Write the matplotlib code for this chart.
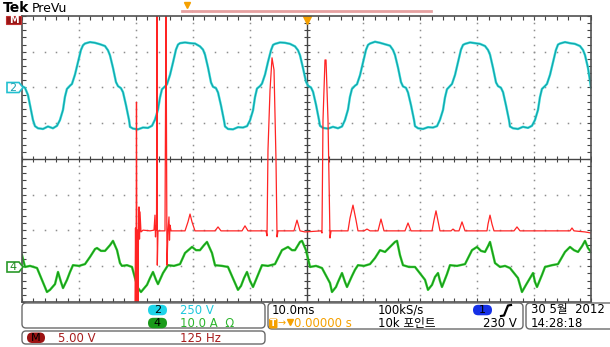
import matplotlib.pyplot as plt
import numpy as np
from matplotlib.patches import FancyBboxPatch, Polygon

plt.rcParams['font.family'] = ['DejaVu Sans', 'Noto Sans CJK KR']

# time in ms (10 ms/div), level in screen divisions
ch2_t = [0.00, 0.53, 1.05, 1.58, 1.93,
         2.28, 2.81, 3.69, 4.56, 5.44, 6.15, 6.67, 7.20, 7.55, 7.90, 8.43, 8.78, 9.31, 9.84, 10.36,
         10.72, 11.07, 11.95, 12.82, 13.70, 14.58, 15.11, 15.46, 15.99, 16.52, 16.87, 17.39, 17.75, 18.27, 18.80,
         18.98, 19.51, 20.39, 21.26, 22.14, 22.85, 23.37, 23.90, 24.25, 24.60, 25.13, 25.48, 26.01, 26.54, 27.06,
         27.42, 27.77, 28.65, 29.52, 30.40, 31.28, 31.81, 32.16, 32.69, 33.22, 33.57, 34.09, 34.45, 34.97, 35.50,
         35.68, 36.21, 37.09, 37.96, 38.84, 39.55, 40.07, 40.60, 40.95, 41.30, 41.83, 42.18, 42.71, 43.24, 43.76,
         44.12, 44.47, 45.35, 46.22, 47.10, 47.98, 48.51, 48.86, 49.39, 49.92, 50.27, 50.79, 51.15, 51.67, 52.20,
         52.37, 52.90, 53.78, 54.65, 55.53, 56.24, 56.76, 57.29, 57.64, 57.99, 58.52, 58.87, 59.40, 59.93, 60.45,
         60.81, 61.16, 62.04, 62.91, 63.79, 64.67, 65.20, 65.55, 66.08, 66.61, 66.96, 67.48, 67.84, 68.36, 68.89,
         69.07, 69.60, 70.48, 71.35, 72.23, 72.94, 73.46, 73.99, 74.34, 74.69, 75.22, 75.57, 76.10, 76.63, 77.15,
         77.51, 77.86, 78.74, 79.61, 80.49, 81.37, 81.90, 82.25, 82.78, 83.31, 83.66, 84.18, 84.54, 85.06, 85.59,
         85.76, 86.29, 87.17, 88.04, 88.92, 89.63, 90.15, 90.68, 91.03, 91.38, 91.91, 92.26, 92.79, 93.32, 93.84,
         94.20, 94.55, 95.43, 96.30, 97.18, 98.06, 98.59, 98.94, 99.47, 100.0]
ch2_v = [2.04, 1.99, 1.79, 1.37, 1.09,
         0.92, 0.86, 0.84, 0.91, 0.86, 0.93, 1.09, 1.37, 1.74, 1.96, 2.05, 2.10, 2.36, 2.71, 3.05,
         3.18, 3.23, 3.27, 3.25, 3.21, 3.16, 3.04, 2.90, 2.55, 2.15, 2.04, 1.98, 1.87, 1.51, 1.10,
         0.90, 0.85, 0.83, 0.88, 0.87, 0.93, 1.10, 1.38, 1.72, 1.95, 2.03, 2.09, 2.35, 2.70, 3.06,
         3.20, 3.24, 3.26, 3.24, 3.23, 3.15, 3.06, 2.92, 2.56, 2.14, 2.02, 1.98, 1.86, 1.50, 1.08,
         0.91, 0.84, 0.83, 0.89, 0.88, 0.92, 1.08, 1.36, 1.73, 1.97, 2.04, 2.11, 2.36, 2.72, 3.04,
         3.19, 3.22, 3.26, 3.25, 3.22, 3.15, 3.04, 2.90, 2.54, 2.16, 2.05, 2.00, 1.88, 1.52, 1.09,
         0.93, 0.87, 0.85, 0.90, 0.86, 0.91, 1.09, 1.38, 1.74, 1.96, 2.05, 2.09, 2.34, 2.70, 3.05,
         3.19, 3.23, 3.28, 3.25, 3.21, 3.17, 3.05, 2.91, 2.56, 2.15, 2.03, 1.99, 1.86, 1.51, 1.10,
         0.92, 0.86, 0.84, 0.89, 0.88, 0.92, 1.10, 1.37, 1.72, 1.95, 2.04, 2.10, 2.35, 2.71, 3.06,
         3.19, 3.22, 3.26, 3.24, 3.22, 3.16, 3.05, 2.92, 2.55, 2.14, 2.04, 1.99, 1.87, 1.50, 1.09,
         0.91, 0.86, 0.84, 0.90, 0.87, 0.93, 1.09, 1.37, 1.73, 1.96, 2.04, 2.10, 2.35, 2.71, 3.05,
         3.20, 3.23, 3.27, 3.24, 3.22, 3.16, 3.05, 2.91, 2.55, 2.00]

ch4_t = [0.00, 0.53, 1.41, 2.64, 3.51, 4.39, 4.92, 5.80, 6.33, 6.85, 7.21, 7.91, 8.44, 8.96, 10.02,
         11.07, 11.95, 12.83, 13.18, 13.88, 14.59, 15.47, 15.99, 16.70, 17.22, 17.57, 18.45, 19.33, 19.86,
         20.39, 20.91, 21.97, 22.50, 23.02, 23.55, 23.90, 24.78, 25.66, 26.71, 27.77, 28.65, 29.88, 30.58,
         31.28, 31.99, 32.51, 33.39, 33.92, 35.15, 36.20, 37.43, 37.96, 38.49, 39.02, 39.54, 40.07, 40.60,
         41.48, 42.18, 43.23, 44.46, 45.69, 46.75, 47.45, 47.98, 48.86, 49.21, 49.91, 50.62, 51.67, 52.72,
         54.13, 54.48, 55.18, 55.54, 56.24, 56.77, 57.12, 58.00, 58.52, 59.05, 60.11, 61.16, 62.04, 62.92,
         63.80, 64.67, 65.55, 65.91, 66.43, 66.96, 68.01, 69.07, 70.83, 71.35, 72.06, 72.58, 73.11, 73.46,
         73.81, 74.69, 75.22, 76.45, 77.86, 79.09, 79.96, 80.67, 81.37, 81.90, 82.25, 83.13, 84.01, 84.89,
         85.76, 87.17, 87.87, 88.58, 89.28, 89.81, 90.16, 90.51, 91.39, 91.92, 93.15, 94.20, 95.43, 96.31,
         97.01, 97.72, 98.42, 98.95, 99.47, 100.0]
ch4_v = [-2.69, -3.02, -2.99, -3.05, -3.38, -3.72, -3.66, -3.50, -3.16, -3.44, -3.61, -3.38, -3.16, -2.97, -2.99,
         -2.94, -2.74, -2.52, -2.49, -2.57, -2.57, -2.41, -2.29, -2.55, -2.91, -2.99, -2.97, -3.02, -3.33,
         -3.61, -3.72, -3.52, -3.33, -3.16, -3.38, -3.50, -3.19, -2.97, -2.99, -2.94, -2.63, -2.46, -2.55,
         -2.55, -2.41, -2.32, -2.63, -2.97, -2.99, -3.02, -3.47, -3.66, -3.55, -3.33, -3.16, -3.41, -3.58,
         -3.24, -2.97, -2.99, -2.94, -2.55, -2.46, -2.55, -2.55, -2.32, -2.29, -2.55, -3.02, -2.99, -3.05,
         -3.47, -3.72, -3.58, -3.44, -3.19, -3.44, -3.58, -3.27, -3.10, -2.97, -2.99, -2.94, -2.77, -2.55,
         -2.60, -2.46, -2.32, -2.29, -2.69, -2.97, -3.02, -3.02, -3.38, -3.66, -3.52, -3.30, -3.19, -3.41,
         -3.58, -3.22, -2.97, -2.99, -2.94, -2.55, -2.46, -2.57, -2.60, -2.44, -2.32, -2.91, -3.02, -2.99,
         -3.05, -3.33, -3.72, -3.52, -3.33, -3.19, -3.44, -3.58, -3.24, -3.02, -2.97, -2.94, -2.60, -2.46,
         -2.55, -2.60, -2.44, -2.29, -2.49, -2.60]

math_t = [19.86, 19.95, 20.04, 20.12, 20.21, 20.30, 20.39, 20.47, 20.56, 20.65, 20.74, 20.91, 21.27, 22.50,
          23.20, 23.37, 23.46, 23.55, 23.64, 23.73, 23.78, 23.90, 25.13, 25.31, 25.48, 25.66, 25.83, 25.92,
          26.01, 26.19, 28.65, 29.17, 29.53, 29.88, 30.40, 33.92, 34.45, 34.97, 38.67, 39.19, 39.72, 42.88,
          43.06, 43.23, 43.59, 43.94, 44.29, 44.64, 44.82, 44.99, 47.80, 48.33, 48.86, 49.74, 52.55, 52.72,
          52.90, 53.25, 53.43, 53.78, 54.13, 54.31, 57.29, 57.65, 58.17, 58.70, 59.05, 60.11, 60.63, 61.16,
          62.57, 63.09, 63.62, 67.31, 67.84, 68.37, 72.06, 72.41, 72.76, 73.11, 73.46, 75.40, 75.75, 76.10,
          76.80, 77.33, 77.86, 81.72, 81.90, 82.25, 82.60, 82.95, 86.47, 86.99, 87.52, 96.31, 96.66, 97.01,
          98.95, 100.0]
math_v = [-4.2, -1.93, -4.2, 1.59, -4.2, -1.99, -4.2, -2.04, -1.34, -2.24, -1.48, -2.04, -1.99, -2.01,
          -1.99, -1.57, -2.18, -1.87, -1.99, 4.5, -2.97, -2.01, -2.01, 4.5, -2.97, -2.01, -1.62, -2.27,
          -1.85, -2.01, -2.01, -1.76, -1.54, -1.76, -2.01, -2.01, -1.90, -2.01, -2.01, -1.87, -2.01, -2.01,
          -2.15, 0.25, 1.93, 2.83, 2.49, -0.03, -2.18, -2.01, -2.01, -1.71, -2.01, -2.04, -2.01, -2.07,
          1.09, 2.77, 2.77, 1.09, -2.21, -2.01, -2.01, -1.65, -1.29, -1.71, -2.01, -2.01, -1.96, -2.01,
          -2.01, -1.68, -2.01, -2.01, -1.79, -2.01, -2.01, -1.71, -1.45, -1.73, -2.01, -2.01, -1.96, -2.01,
          -2.01, -1.76, -2.01, -2.01, -1.82, -1.57, -1.82, -2.01, -2.01, -1.90, -2.01, -2.01, -1.93, -2.01,
          -2.04, -2.07]

# readout texts
ch2_scale = '250 V'
ch4_scale = '10.0 A  Ω'
math_scale = '5.00 V'
math_freq = '125 Hz'
timebase = '10.0ms'
sample_rate = '100kS/s'
trig_pos = '0.00000 s'
rec_len = '10k 포인트'
trig_level = '230 V'
date_str = '30 5월  2012'
time_str = '14:28:18'

W, H = 610, 347
fig = plt.figure(figsize=(W / 100, H / 100), dpi=100)
ax = fig.add_axes([22 / W, 1 - 302 / H, 569 / W, 286 / H])
ax.set_xlim(0, 100)
ax.set_ylim(-4, 4)

grid_c = '#8e8e8e'
line_c = '#444444'
# dotted graticule
for gx in range(10, 100, 10):
    ax.plot([gx] * 41, np.linspace(-4, 4, 41), ls='none', marker='s', ms=1.1, mew=0, color=grid_c)
for gy in [-3, -2, -1, 1, 2, 3]:
    ax.plot(np.arange(0, 101, 2), [gy] * 51, ls='none', marker='s', ms=1.1, mew=0, color=grid_c)
ax.axhline(0, color=line_c, lw=1)
ax.axvline(50, color=line_c, lw=1)
ax.plot(np.arange(0, 101, 2), [0] * 51, ls='none', marker='|', ms=5, mew=0.8, color=line_c)
ax.plot([50] * 41, np.linspace(-4, 4, 41), ls='none', marker='_', ms=5, mew=0.8, color=line_c)

ax.set_xticks(np.arange(0, 101, 2))
ax.set_yticks(np.linspace(-4, 4, 41))
ax.tick_params(direction='in', length=3, width=0.8, color=line_c, top=True, right=True,
               labelbottom=False, labelleft=False)
for s in ax.spines.values():
    s.set_color('#505050')
    s.set_linewidth(1.2)

# traces
ax.plot(ch2_t, ch2_v, color='#2ad4d4', lw=1.7, solid_joinstyle='round')
ax.plot(ch2_t, ch2_v, color='#0b7f88', lw=0.5, alpha=0.8)
ax.plot(ch4_t, ch4_v, color='#2ec82e', lw=1.7, solid_joinstyle='round')
ax.plot(ch4_t, ch4_v, color='#0b730b', lw=0.5, alpha=0.8)
ax.plot(math_t, math_v, color='#ff2424', lw=0.9)
ax.plot(50, 3.9, marker='v', ms=6, color='#f5a000', clip_on=False)

# overlay in pixel units for header, markers and readout
ov = fig.add_axes([0, 0, 1, 1], zorder=5)
ov.patch.set_alpha(0)
ov.set_xlim(0, W)
ov.set_ylim(H, 0)
ov.axis('off')

ov.text(3, 8, 'Tek', fontsize=10, fontweight='bold', va='center')
ov.text(32, 8, 'PreVu', fontsize=9, va='center')
ov.plot([182, 191], [10.7, 10.7], color='#e6a0a0', lw=2)
ov.plot([193, 431], [10.7, 10.7], color='#e6a0a0', lw=2)
ov.plot(187, 5, marker='v', ms=5, color='#f5a000')

ov.add_patch(FancyBboxPatch((6, 16), 15, 8, boxstyle='square,pad=0', fc='#9a1616', ec='#c03030', lw=0.8))
ov.text(13.5, 20.3, 'M', color='white', fontsize=7, ha='center', va='center', fontweight='bold')

for cy, ec, tc, lab in [(87.5, '#22c0d0', '#1aa0b0', '2'), (267, '#2a9a2a', '#1f8a1f', '4')]:
    ov.add_patch(Polygon([(7, cy - 5), (19, cy - 5), (23, cy), (19, cy + 5), (7, cy + 5)],
                         closed=True, fc='white', ec=ec, lw=1.2))
    ov.text(13, cy + 0.3, lab, color=tc, fontsize=8, ha='center', va='center')


def box(x, y, w, h):
    ov.add_patch(FancyBboxPatch((x, y), w, h, boxstyle='round,pad=0,rounding_size=4',
                                fc='white', ec='#6a6a6a', lw=1))


def pill(x, y, w, h, fc, lab):
    ov.add_patch(FancyBboxPatch((x, y), w, h, boxstyle='round,pad=0,rounding_size=%g' % (h / 2),
                                fc=fc, ec='none'))
    ov.text(x + w / 2, y + h / 2 + 0.3, lab, fontsize=8, ha='center', va='center', color='black')


box(22, 303, 243, 25)
box(22, 331, 243, 13)
box(268, 303, 255, 26)
box(526, 303, 100, 26)

fs = 8.4
r1, r2, r3 = 310, 323.5, 338
pill(148, 304.8, 19, 10.5, '#1ed4e8', '2')
ov.text(180, r1, ch2_scale, color='#1ec8dc', fontsize=fs, va='center')
pill(148, 317.8, 19, 10.5, '#1a9a1a', '4')
ov.text(180, r2, ch4_scale, color='#2db52d', fontsize=fs, va='center')
pill(27, 332.5, 18, 10.5, '#9c1212', 'M')
ov.text(58, r3, math_scale, color='#a81c1c', fontsize=fs, va='center')
ov.text(180, r3, math_freq, color='#a81c1c', fontsize=fs, va='center')

ov.text(272, r1, timebase, color='black', fontsize=fs, va='center')
ov.text(378, r1, sample_rate, color='black', fontsize=fs, va='center')
pill(473, 304.8, 19, 10.5, '#1530e6', '1')
ov.plot([501, 504, 508, 511], [316, 315.5, 305.5, 305], color='black', lw=1.6)

ov.add_patch(FancyBboxPatch((269, 318.5), 8.5, 10, boxstyle='round,pad=0,rounding_size=1.5',
                            fc='#f5a000', ec='none'))
ov.text(273.2, 323.8, 'T', color='white', fontsize=6.5, ha='center', va='center', fontweight='bold')
ov.text(278, r2, '→', color='#f5a000', fontsize=7, va='center')
ov.plot(290, 322, marker='v', ms=5, color='#f5a000')
ov.text(294, r2, trig_pos, color='#f5a000', fontsize=fs, va='center')
ov.text(378, r2, rec_len, color='black', fontsize=fs, va='center')
ov.text(483, r2, trig_level, color='black', fontsize=fs, va='center')

ov.text(531, r1, date_str, color='black', fontsize=fs, va='center')
ov.text(531, r2, time_str, color='black', fontsize=fs, va='center')

fig.savefig('out.png', dpi=100)
